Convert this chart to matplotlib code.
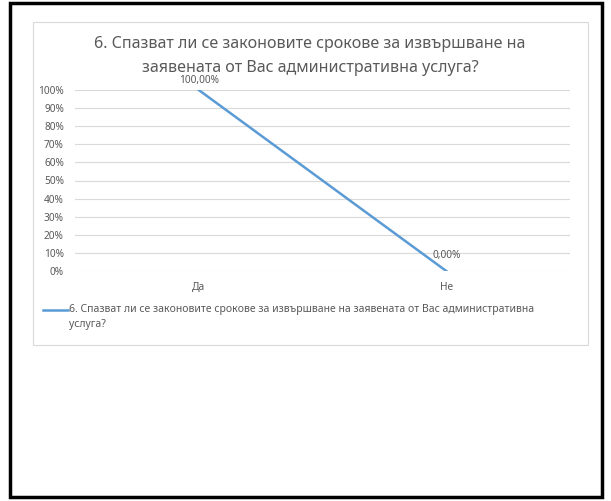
import matplotlib.pyplot as plt
from matplotlib.patches import Rectangle
from matplotlib.lines import Line2D
from matplotlib.ticker import FuncFormatter

plt.rcParams['font.family'] = ['Noto Sans', 'DejaVu Sans']

categories = ["Да", "Не"]
values = [1.0, 0.0]
data_labels = ["100,00%", "0,00%"]
title = "6. Спазват ли се законовите срокове за извършване на\nзаявената от Вас административна услуга?"
series_name = ("6. Спазват ли се законовите срокове за извършване на заявената от Вас административна\n"
               "услуга?")

W, H = 611, 501
line_color = "#5B9BD5"
text_color = "#595959"
grid_color = "#D9D9D9"

fig = plt.figure(figsize=(W / 100, H / 100), dpi=100)

# outer black frame and inner chart border
fig.patches.append(Rectangle((10 / W, 4 / H), 592 / W, 494 / H, transform=fig.transFigure,
                             fill=False, edgecolor="black", linewidth=2.5))
fig.patches.append(Rectangle((33 / W, 1 - 345 / H), 555 / W, 323 / H, transform=fig.transFigure,
                             fill=False, edgecolor="#D9D9D9", linewidth=0.8))

ax = fig.add_axes([75 / W, 1 - 271 / H, 495 / W, 181 / H])
x = [0, 1]
ax.plot(x, values, color=line_color, linewidth=1.8)
ax.set_xlim(-0.5, 1.5)
ax.set_ylim(0, 1)
ax.set_yticks([i / 10 for i in range(11)])
ax.yaxis.set_major_formatter(FuncFormatter(lambda v, _: f"{v * 100:.0f}%"))
ax.set_xticks(x)
ax.set_xticklabels(categories)
ax.tick_params(axis="both", length=0, labelsize=7.3, colors=text_color)
ax.tick_params(axis="y", pad=8)
ax.tick_params(axis="x", pad=8)
ax.grid(axis="y", color=grid_color, linewidth=0.8)
ax.set_axisbelow(True)
for s in ax.spines.values():
    s.set_visible(False)

ax.annotate(data_labels[0], (x[0], values[0]), xytext=(0, 3), textcoords="offset points",
            ha="center", va="bottom", fontsize=7.3, color=text_color, annotation_clip=False)
ax.annotate(data_labels[1], (x[1], values[1]), xytext=(-10, 7), textcoords="offset points",
            ha="left", va="bottom", fontsize=7.3, color=text_color, annotation_clip=False)

fig.text(310 / W, 1 - 56 / H, title, ha="center", va="center", fontsize=11.6,
         color=text_color, linespacing=1.6)

fig.lines.append(Line2D([43 / W, 68 / W], [1 - 310 / H, 1 - 310 / H], transform=fig.transFigure,
                        color=line_color, linewidth=1.8))
fig.text(69 / W, 1 - 317 / H, series_name, ha="left", va="center", fontsize=7.5,
         color=text_color, linespacing=1.45)

fig.savefig("out.png", dpi=100, facecolor="white")
